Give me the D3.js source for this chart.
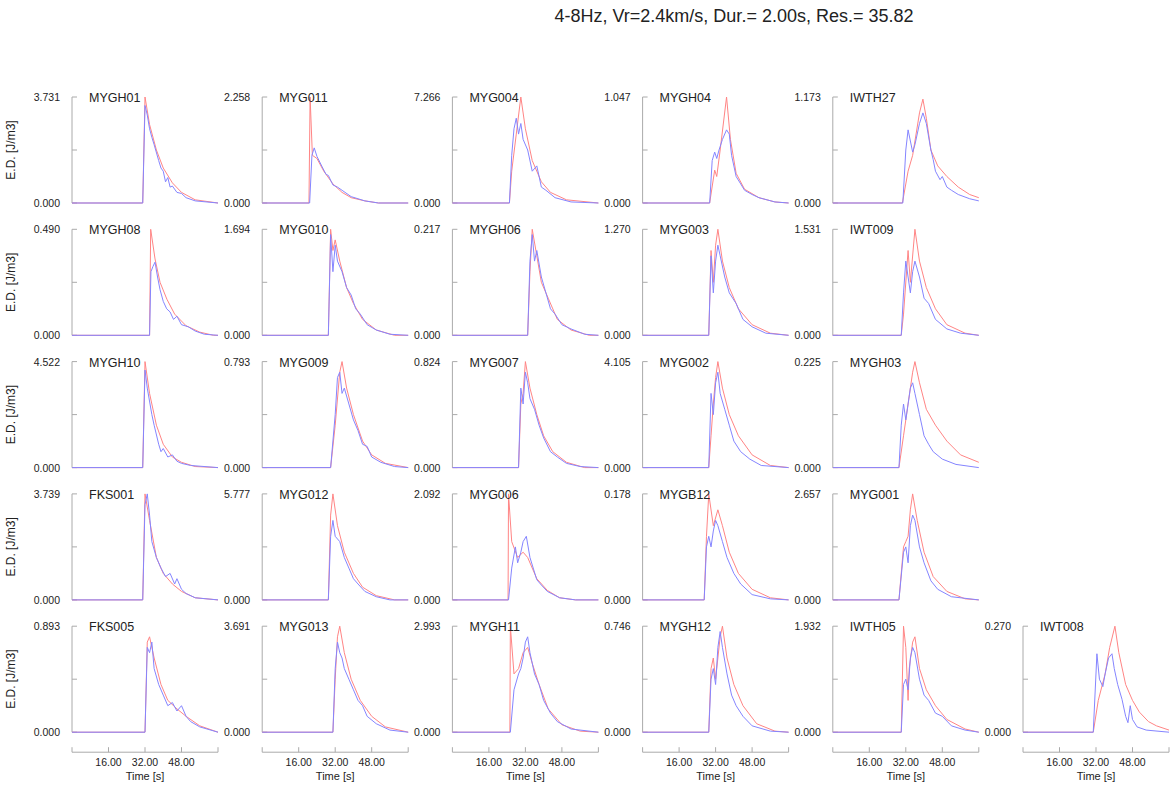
<!DOCTYPE html>
<html>
<head>
<meta charset="utf-8">
<script src="https://cdn.jsdelivr.net/npm/d3@7"></script>
<style>
body{margin:0;background:#fff;}
text{font-family:"Liberation Sans",Arial,sans-serif;fill:#222;}
</style>
</head>
<body>
<div id="chart"></div>
<script>
var W = 1171, H = 791;
var title = "4-8Hz, Vr=2.4km/s, Dur.= 2.00s, Res.= 35.82";

// stations, row by row
var stationNames = [
  "MYGH01","MYG011","MYG004","MYGH04","IWTH27",
  "MYGH08","MYG010","MYGH06","MYG003","IWT009",
  "MYGH10","MYG009","MYG007","MYG002","MYGH03",
  "FKS001","MYG012","MYG006","MYGB12","MYG001",
  "FKS005","MYG013","MYGH11","MYGH12","IWTH05","IWT008"]
var yMaxLabels = [
  3.731,2.258,7.266,1.047,1.173,
  0.490,1.694,0.217,1.270,1.531,
  4.522,0.793,0.824,4.105,0.225,
  3.739,5.777,2.092,0.178,2.657,
  0.893,3.691,2.993,0.746,1.932,0.270]
var timeTicks = [0,16,32,48,64]
var timeTickLabels = ["","16.00","32.00","48.00",""]

// red (synthetic) curves: [time s, fraction of panel max]
var synCurves = [
  [[0,0],[31,0],[32,1],[34,0.74],[37,0.5],[40,0.33],[44,0.19],[48,0.1],[54,0.03],[64,0]],
  [[0,0],[20.5,0],[21,1],[22,0.45],[24,0.42],[27,0.3],[31,0.18],[35,0.1],[39,0.05],[45,0.02],[51,0],[64,0]],
  [[0,0],[25,0],[26,0.3],[28,0.65],[30,1],[32,0.7],[35,0.4],[39,0.2],[43,0.1],[50,0.03],[64,0]],
  [[0,0],[29.4,0],[31.6,0.31],[32.5,0.25],[34,0.5],[36.8,1],[38.5,0.6],[41,0.28],[44.7,0.13],[51,0.05],[58,0.01],[64,0]],
  [[0,0],[30.5,0],[33,0.3],[35,0.45],[38,0.85],[39.5,0.98],[41,0.8],[43,0.5],[46,0.35],[50,0.25],[55,0.15],[60,0.08],[64,0.05]],

  [[0,0],[34,0],[34.5,1],[36.4,0.72],[38.6,0.5],[41.6,0.34],[45,0.2],[50,0.09],[56,0.03],[62,0],[64,0]],
  [[0,0],[29,0],[30,1],[31,0.8],[32,0.9],[34,0.7],[37,0.45],[40,0.3],[44,0.15],[50,0.05],[58,0],[64,0]],
  [[0,0],[33,0],[34,0.6],[35,1],[37,0.75],[39,0.5],[42,0.35],[46,0.15],[52,0.05],[60,0],[64,0]],
  [[0,0],[29,0],[30,0.8],[31,0.5],[32,0.85],[33,1],[35,0.7],[38,0.45],[42,0.25],[48,0.1],[56,0.02],[64,0]],
  [[0,0],[30,0],[31,0.2],[33,0.8],[34,0.5],[36,1],[38,0.7],[41,0.45],[45,0.25],[50,0.1],[58,0.02],[64,0]],

  [[0,0],[31,0],[32,1],[34,0.7],[37,0.4],[40,0.22],[44,0.1],[48,0.05],[54,0.01],[64,0]],
  [[0,0],[30,0],[32,0.4],[34,0.9],[35,1],[37,0.75],[40,0.5],[44,0.25],[48,0.12],[54,0.04],[64,0]],
  [[0,0],[29,0],[30,0.6],[31,0.7],[32,1],[34,0.75],[37,0.5],[40,0.3],[44,0.15],[50,0.05],[58,0],[64,0]],
  [[0,0],[29,0],[30,0.3],[31,0.6],[32,0.85],[33,1],[35,0.75],[38,0.5],[42,0.3],[48,0.12],[56,0.02],[64,0]],
  [[0,0],[29,0],[31,0.3],[33,0.6],[35,0.9],[36,1],[38,0.8],[41,0.55],[45,0.4],[50,0.25],[56,0.12],[64,0.05]],

  [[0,0],[31,0],[32,1],[34,0.75],[37,0.4],[40,0.25],[44,0.15],[48,0.08],[54,0.02],[64,0]],
  [[0,0],[29,0],[30,0.8],[31,1],[33,0.7],[36,0.45],[40,0.25],[44,0.12],[50,0.04],[58,0],[64,0]],
  [[0,0],[24.4,0],[24.6,1],[26,0.55],[28.6,0.4],[31,0.45],[33,0.4],[37,0.2],[41.6,0.09],[47,0.02],[54,0],[64,0]],
  [[0,0],[27,0],[28,0.6],[29,1],[31,0.7],[33,0.85],[35,0.7],[38,0.45],[42,0.25],[48,0.1],[56,0.02],[64,0]],
  [[0,0],[29,0],[31,0.5],[32,0.55],[33,0.6],[34,0.85],[35,1],[37,0.75],[40,0.45],[44,0.22],[50,0.08],[58,0.01],[64,0]],

  [[0,0],[32,0],[33,0.85],[34,0.9],[36,0.7],[39,0.45],[42,0.3],[46,0.22],[50,0.15],[56,0.06],[64,0]],
  [[0,0],[31,0],[32,0.5],[33,0.9],[34,1],[36,0.75],[39,0.5],[43,0.3],[48,0.15],[54,0.05],[64,0]],
  [[0,0],[25.2,0],[25.4,1],[27,0.55],[29,0.6],[31,0.75],[33,0.8],[35,0.65],[38,0.45],[42,0.22],[48,0.07],[56,0.01],[64,0]],
  [[0,0],[29,0],[30,0.6],[31,0.7],[32,0.5],[34,0.9],[35,1],[37,0.7],[40,0.45],[44,0.25],[50,0.08],[58,0.01],[64,0]],
  [[0,0],[30,0],[31,1],[32,0.8],[33,0.3],[33.5,0.6],[35,0.85],[36,0.9],[38,0.6],[41,0.4],[45,0.25],[50,0.12],[58,0.03],[64,0]],
  [[0,0],[30.8,0],[33,0.3],[36,0.55],[38,0.8],[40.3,1],[42,0.75],[45,0.45],[48,0.3],[51,0.19],[55,0.1],[58.5,0.06],[64,0.02]]
]

// blue (observed) curves
var obsCurves = [
  [[0,0],[31,0],[32,0.92],[33,0.83],[34,0.7],[35,0.62],[36,0.55],[38,0.4],[39,0.33],[40,0.3],[41,0.2],[42,0.24],[43,0.15],[44,0.16],[46,0.1],[48,0.09],[50,0.05],[54,0.02],[64,0]],
  [[0,0],[20.8,0],[21.8,0.45],[22.8,0.52],[24,0.44],[26.3,0.34],[28,0.27],[29,0.26],[31,0.17],[33,0.15],[35,0.12],[39,0.06],[45,0.02],[51,0],[64,0]],
  [[0,0],[25,0],[26,0.45],[27,0.7],[28,0.8],[29,0.65],[30,0.75],[31,0.6],[33,0.5],[35,0.3],[37,0.35],[39,0.15],[41,0.12],[45,0.05],[52,0.01],[64,0]],
  [[0,0],[29.4,0],[30.5,0.4],[31.6,0.48],[32.5,0.42],[33.5,0.5],[35,0.6],[36.8,0.69],[38,0.65],[39,0.45],[41,0.25],[43,0.18],[44.7,0.12],[48,0.08],[51,0.05],[58,0.01],[64,0]],
  [[0,0],[30.7,0],[32,0.5],[33,0.69],[35,0.48],[36,0.55],[38,0.75],[39.5,0.85],[41,0.75],[43,0.5],[44,0.41],[45,0.3],[47,0.22],[48,0.25],[50,0.15],[52,0.12],[55,0.08],[60,0.04],[64,0.02]],

  [[0,0],[34,0],[34.6,0.6],[35.5,0.65],[36.4,0.69],[37.5,0.55],[38.6,0.43],[40,0.32],[41.5,0.25],[43,0.22],[44.5,0.15],[46,0.18],[48,0.1],[51,0.08],[54,0.04],[58,0.01],[64,0]],
  [[0,0],[29,0],[30,0.95],[31,0.6],[32,0.85],[33,0.7],[35,0.6],[37,0.45],[39,0.38],[41,0.25],[43,0.2],[46,0.1],[50,0.05],[56,0.01],[64,0]],
  [[0,0],[33,0],[34,0.7],[35,0.95],[36,0.7],[37,0.8],[39,0.55],[41,0.4],[43,0.25],[45,0.2],[48,0.1],[52,0.06],[58,0.01],[64,0]],
  [[0,0],[29,0],[30,0.75],[31,0.4],[32,0.7],[33,0.85],[34,0.75],[36,0.55],[38,0.4],[41,0.3],[44,0.15],[48,0.08],[54,0.02],[64,0]],
  [[0,0],[30,0],[31,0.4],[32,0.7],[33,0.55],[34,0.4],[35,0.6],[36,0.7],[38,0.55],[40,0.35],[42,0.3],[45,0.15],[50,0.06],[56,0.02],[64,0]],

  [[0,0],[31,0],[32,0.92],[33,0.75],[35,0.5],[36,0.4],[38,0.22],[39,0.15],[40,0.18],[42,0.1],[44,0.12],[46,0.06],[48,0.04],[52,0.02],[64,0]],
  [[0,0],[30,0],[32,0.5],[33,0.85],[34,0.9],[35,0.7],[36,0.75],[38,0.6],[40,0.45],[42,0.35],[44,0.22],[46,0.2],[48,0.1],[52,0.05],[58,0.01],[64,0]],
  [[0,0],[29,0],[30,0.75],[31,0.6],[32,0.9],[33,0.8],[34,0.65],[36,0.55],[38,0.4],[40,0.28],[43,0.15],[46,0.1],[50,0.04],[56,0.01],[64,0]],
  [[0,0],[29,0],[30,0.7],[31,0.5],[32,0.8],[33,0.9],[34,0.7],[36,0.55],[38,0.4],[40,0.25],[43,0.15],[47,0.08],[52,0.02],[64,0]],
  [[0,0],[29,0],[30,0.4],[31,0.6],[32,0.45],[33,0.6],[34,0.75],[35,0.8],[36,0.7],[38,0.5],[40,0.3],[42,0.22],[44,0.15],[48,0.08],[54,0.03],[64,0]],

  [[0,0],[31,0],[32,0.9],[33,1],[34,0.8],[35,0.55],[37,0.4],[39,0.3],[41,0.22],[43,0.25],[45,0.15],[46,0.2],[48,0.1],[50,0.06],[54,0.02],[64,0]],
  [[0,0],[29,0],[30,0.6],[31,0.75],[32,0.6],[34,0.55],[36,0.4],[38,0.3],[40,0.2],[42,0.15],[45,0.08],[50,0.03],[56,0],[64,0]],
  [[0,0],[24.6,0],[26,0.3],[27.6,0.5],[28.6,0.35],[30,0.45],[31,0.55],[32.4,0.6],[34,0.4],[37,0.19],[39,0.14],[41.6,0.08],[47,0.02],[54,0],[64,0]],
  [[0,0],[27,0],[28,0.5],[29,0.6],[30,0.5],[31,0.65],[32,0.75],[33,0.7],[35,0.55],[37,0.4],[40,0.25],[43,0.15],[48,0.05],[56,0.01],[64,0]],
  [[0,0],[29,0],[31,0.45],[32,0.5],[33,0.35],[34,0.7],[35,0.8],[36,0.75],[38,0.5],[40,0.35],[43,0.18],[46,0.1],[52,0.03],[64,0]],

  [[0,0],[32,0],[33,0.8],[34,0.75],[35,0.85],[36,0.6],[38,0.45],[40,0.35],[42,0.25],[44,0.28],[46,0.2],[48,0.25],[50,0.15],[52,0.1],[56,0.05],[64,0]],
  [[0,0],[31,0],[32,0.6],[33,0.85],[34,0.75],[35,0.7],[36,0.6],[38,0.5],[40,0.4],[42,0.3],[44,0.25],[46,0.15],[50,0.08],[56,0.02],[64,0]],
  [[0,0],[25.4,0],[27,0.4],[29,0.55],[30,0.6],[31,0.7],[32,0.85],[33,0.9],[34,0.75],[36,0.55],[38,0.45],[40,0.3],[43,0.18],[46,0.1],[52,0.03],[64,0]],
  [[0,0],[29,0],[30,0.5],[31,0.6],[32,0.45],[33,0.8],[34,0.95],[35,0.8],[37,0.55],[39,0.35],[41,0.25],[44,0.15],[48,0.06],[56,0.01],[64,0]],
  [[0,0],[30,0],[31,0.45],[32,0.5],[33,0.4],[34,0.7],[35,0.8],[36,0.75],[38,0.5],[40,0.35],[42,0.3],[45,0.18],[48,0.15],[52,0.06],[58,0.02],[64,0]],
  [[0,0],[30.8,0],[32.4,0.74],[33.5,0.5],[35,0.43],[36,0.55],[37.5,0.7],[39,0.74],[40,0.6],[41.5,0.45],[43.4,0.31],[45,0.15],[46,0.09],[47,0.25],[48,0.12],[50,0.05],[54,0.02],[64,0]]
]

var colX0 = 72, colStep = 190.2, plotW = 146
var rowY0 = 97, rowStep = 132.3, plotH = 106
var nCols = 5

var svg = d3.select("#chart").append("svg")
  .attr("width", W).attr("height", H)

svg.append("text")
  .attr("x", 734).attr("y", 22)
  .attr("text-anchor", "middle")
  .style("font-size", "18px")
  .text(title)

var xScale = d3.scaleLinear().domain([0, 64]).range([0, plotW])
var line = d3.line()
  .x(function(d){ return xScale(d[0]) })

stationNames.forEach(function(name, i){
  var row = Math.floor(i / nCols), col = i - row * nCols
  if (i == 25) { row = 4; col = 5 }
  var px = colX0 + col * colStep, py = rowY0 + row * rowStep
  var yMax = yMaxLabels[i]
  var yScale = d3.scaleLinear().domain([0, yMax]).range([plotH, 0])
  line.y(function(d){ return yScale(d[1] * yMax) })

  var g = svg.append("g").attr("transform", "translate(" + px + "," + py + ")")

  // y axis: line with inward ticks, only end values labelled
  g.append("line").attr("x1", 0).attr("x2", 0).attr("y1", 0).attr("y2", plotH)
    .attr("stroke", "#aaa").attr("stroke-width", 1)
  ;[0, yMax / 2, yMax].forEach(function(v){
    g.append("line").attr("x1", 0).attr("x2", 5)
      .attr("y1", yScale(v)).attr("y2", yScale(v))
      .attr("stroke", "#aaa").attr("stroke-width", 1)
  })
  ;[0, yMax].forEach(function(v){
    g.append("text").attr("x", -12).attr("y", yScale(v) + 4)
      .attr("text-anchor", "end")
      .style("font-size", "10.5px")
      .text(d3.format(".3f")(v))
  })

  g.append("path").datum(synCurves[i])
    .attr("d", line).attr("fill", "none")
    .attr("stroke", "#ff8585").attr("stroke-width", 1)
  g.append("path").datum(obsCurves[i])
    .attr("d", line).attr("fill", "none")
    .attr("stroke", "#8585ff").attr("stroke-width", 1)

  g.append("text").attr("x", 17).attr("y", 5)
    .style("font-size", "12.5px")
    .text(name)

  if (col == 0) {
    g.append("text")
      .attr("transform", "translate(-57," + (plotH / 2) + ") rotate(-90)")
      .attr("text-anchor", "middle")
      .style("font-size", "12px")
      .text("E.D. [J/m3]")
  }

  if (row == 4) {
    var ax = g.append("g").attr("transform", "translate(0," + (plotH + 20) + ")")
    ax.append("line").attr("x1", 0).attr("x2", plotW).attr("y1", 0).attr("y2", 0)
      .attr("stroke", "#aaa")
    timeTicks.forEach(function(t, k){
      ax.append("line").attr("x1", xScale(t)).attr("x2", xScale(t))
        .attr("y1", 0).attr("y2", -5).attr("stroke", "#aaa")
      ax.append("text").attr("x", xScale(t)).attr("y", 14)
        .attr("text-anchor", "middle")
        .style("font-size", "10.5px")
        .text(timeTickLabels[k])
    })
    ax.append("text").attr("x", plotW / 2).attr("y", 28)
      .attr("text-anchor", "middle")
      .style("font-size", "11px")
      .text("Time [s]")
  }
})
</script>
</body>
</html>
